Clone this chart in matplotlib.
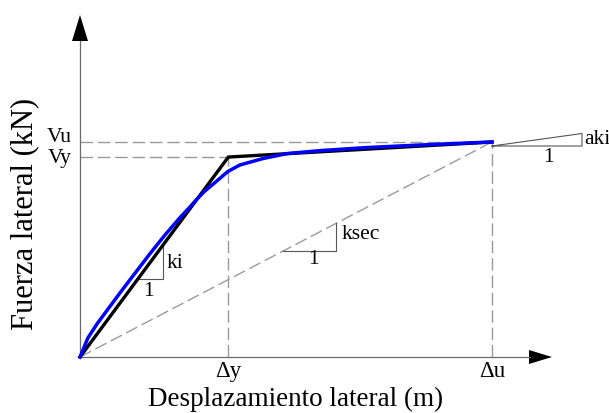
import matplotlib
matplotlib.use("Agg")
import matplotlib.pyplot as plt
from matplotlib.patches import Polygon
import numpy as np

plt.rcParams['font.family'] = ['Liberation Serif', 'DejaVu Serif']

# ---- data (arbitrary units) ----
dy = 0.036      # yield displacement
du = 0.100      # ultimate displacement
Vy = 930.0      # yield force
Vu = 1000.0     # ultimate force

bilinear_disp = [0.0, dy, du]
bilinear_force = [0.0, Vy, Vu]

curve_disp = [0.0, 0.0019, 0.0041, 0.0068, 0.0097, 0.0134, 0.0170, 0.0206,
              0.0243, 0.0267, 0.0284, 0.0303, 0.0328, 0.0359, 0.0388, 0.0444,
              0.0502, 0.0583, 0.0694, 0.0825, 0.0947, 0.1000]
curve_force = [0, 88, 153, 223, 298, 391, 481, 567,
               649, 698, 735, 772, 812, 863, 893, 923,
               946, 960, 974, 986, 996, 1000]

# ---- figure: one axes covering the whole canvas ----
W, H = 609, 413
fig = plt.figure(figsize=(W / 100, H / 100), dpi=100)
ax = fig.add_axes([0, 0, 1, 1])
ax.set_axis_off()

ox, oy = 80.0, 357.0          # origin pixel
sx = 412.0 / du               # px per unit x
sy = 215.0 / Vu               # px per unit y
ax.set_xlim(-ox / sx, (W - ox) / sx)
ax.set_ylim(-(H - oy) / sy, oy / sy)

def px(x):
    return (x - ox) / sx

def py(y):
    return (oy - y) / sy

grey = '#9a9a9a'
axis_c = '#6a6a6a'
dash = dict(color=grey, lw=1.0, dashes=(9, 3.5))

# reference dashed lines
ax.plot([0, du], [Vu, Vu], **dash)
ax.plot([0, dy], [Vy, Vy], **dash)
ax.plot([dy, dy], [0, Vy], **dash)
ax.plot([du, du], [0, Vu], **dash)
ax.plot([0, du], [0, Vu], **dash)

# axes with arrows
ax.plot([0, 0], [0, py(41)], color=axis_c, lw=0.9)
ax.plot([0, px(530)], [0, 0], color=axis_c, lw=0.9)
ax.add_patch(Polygon([[px(72), py(41)], [px(88), py(41)], [0, py(15)]],
                     closed=True, color='black', lw=0))
ax.add_patch(Polygon([[px(529), py(350)], [px(529), py(364)], [px(552), 0]],
                     closed=True, color='black', lw=0))

# curves
ax.plot(bilinear_disp, bilinear_force, color='black', lw=2.4,
        solid_joinstyle='miter', zorder=3)
ax.plot(curve_disp, curve_force, color='#0000ff', lw=2.5, zorder=4)

# stiffness triangles
ki = Vy / dy
x1, x2 = px(138), px(163)
ax.plot([x1, x2, x2], [ki * x1, ki * x1, ki * x2], color='#555555', lw=0.8)
ksec = Vu / du
s1, s2 = px(283), px(336)
ax.plot([s1, s2, s2], [ksec * s1, ksec * s1, ksec * s2], color='#555555', lw=0.8)
a1, a2 = du, px(582)
ay0, ay1 = py(146), py(133.5)
ax.plot([a1, a2, a2, a1], [ay0, ay0, ay1, ay0], color='#555555', lw=0.8)

fs = 15.5
ax.text(px(167), py(264), 'ki', fontsize=fs, ha='left', va='center')
ax.text(px(148), py(292), '1', fontsize=fs, ha='center', va='center')
ax.text(px(342), py(234), 'ksec', fontsize=fs, ha='left', va='center')
ax.text(px(313), py(260), '1', fontsize=fs, ha='center', va='center')
ax.text(px(584), py(139), 'aki', fontsize=fs, ha='left', va='center')
ax.text(px(548), py(157), '1', fontsize=fs, ha='center', va='center')

ax.text(px(72), Vu, 'Vu', fontsize=fs, ha='right', va='baseline')
ax.text(px(72), py(163), 'Vy', fontsize=fs, ha='right', va='baseline')
ax.text(dy, py(361), 'Δy', fontsize=16.5, ha='center', va='top')
ax.text(du, py(361), 'Δu', fontsize=16.5, ha='center', va='top')

ax.text(px(296), py(406), 'Desplazamiento lateral (m)', fontsize=19.5,
        ha='center', va='baseline')
ax.text(px(25), py(214), 'Fuerza lateral (kN)', fontsize=22,
        ha='center', va='center', rotation=90)

fig.savefig('out.png', dpi=100)
